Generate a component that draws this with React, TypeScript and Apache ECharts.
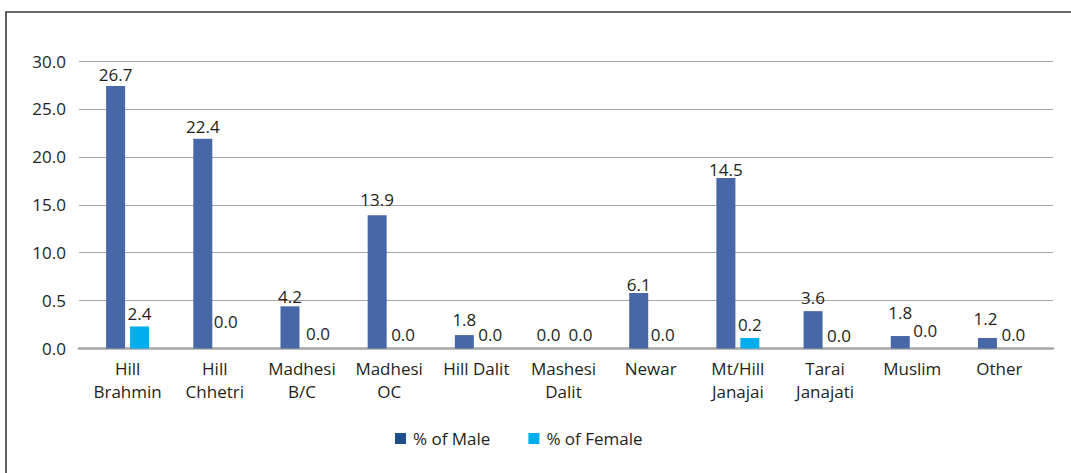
import React, { useEffect, useRef } from "react";
import * as echarts from "echarts";

// ---- data ----
const categories = [
  "Hill\nBrahmin",
  "Hill\nChhetri",
  "Madhesi\nB/C",
  "Madhesi\nOC",
  "Hill Dalit",
  "Mashesi\nDalit",
  "Newar",
  "Mt/Hill\nJanajai",
  "Tarai\nJanajati",
  "Muslim",
  "Other",
];
// bar heights as drawn in the picture
const maleHeights = [27.4, 21.9, 4.4, 13.9, 1.4, 0, 5.8, 17.8, 3.9, 1.3, 1.1];
const femaleHeights = [2.3, 0, 0, 0, 0, 0, 0, 1.1, 0, 0, 0];
// values printed on the bars
const maleLabels = ["26.7", "22.4", "4.2", "13.9", "1.8", "0.0", "6.1", "14.5", "3.6", "1.8", "1.2"];
const femaleLabels = ["2.4", "0.0", "0.0", "0.0", "0.0", "0.0", "0.0", "0.2", "0.0", "0.0", "0.0"];
const yTickLabels = ["0.0", "0.5", "10.0", "15.0", "20.0", "25.0", "30.0"];
const seriesNames = ["% of Male", "% of Female"];

// ---- style tweaks (label lift above bar top / sideways shift, px) ----
const maleLabelGap = [5.7, 6.3, 4.3, 10, 10, 8.5, 3, 3, 7.7, 17.7, 14];
const femaleLabelGap = [7.3, 21.5, 9.5, 8.5, 8.5, 8.5, 8.5, 8, 7.5, 12.5, 8.5];
const maleLabelShift = [0, 0, 0, 0, 0, -3, 0, 0, 0, 0, -2];
const femaleLabelShift = [0, -1, 4, 2, 2, 5, 0, 0, 2, 1, 2];

const FONT = "'Open Sans', sans-serif";
const TEXT = "#231f20";
const MALE = "#4767a6";
const FEMALE = "#00aeef";

export default function App() {
  const ref = useRef<HTMLDivElement>(null);
  useEffect(() => {
    document.body.style.margin = "0";
    const chart = echarts.init(ref.current!, null, { renderer: "svg" });
    const mkData = (h: number[], labels: string[], gaps: number[], shifts: number[]) =>
      h.map((v, i) => ({
        value: v,
        label: { formatter: labels[i], distance: gaps[i] - 3, offset: [shifts[i], 0] },
      }));
    chart.setOption({
      animation: false,
      backgroundColor: "#fff",
      textStyle: { fontFamily: FONT },
      grid: [
        { left: 79, right: 18, top: 61, bottom: 124.5 },
        { left: 84, right: 28, top: 61, bottom: 124.5 },
      ],
      legend: {
        left: 395,
        top: 430,
        padding: 0,
        itemWidth: 11,
        itemHeight: 11,
        itemGap: 38,
        icon: "rect",
        textStyle: { fontFamily: FONT, fontSize: 17, color: TEXT, padding: [0, 0, 0, 2] },
        data: [
          { name: seriesNames[0], itemStyle: { color: "#1f4e8c" } },
          { name: seriesNames[1], itemStyle: { color: FEMALE } },
        ],
      },
      xAxis: [
        {
          type: "value",
          gridIndex: 0,
          min: 0,
          max: 1,
          axisLine: { show: true, lineStyle: { color: "#a6a6a6", width: 2.5 } },
          axisTick: { show: false },
          axisLabel: { show: false },
          splitLine: { show: false },
        },
        {
          type: "category",
          gridIndex: 1,
          data: categories,
          axisLine: { show: false },
          axisTick: { show: false },
          axisLabel: {
            interval: 0,
            fontFamily: FONT,
            fontSize: 17,
            color: TEXT,
            lineHeight: 23,
            margin: 8,
          },
        },
      ],
      yAxis: [
        {
          type: "value",
          gridIndex: 0,
          min: 0,
          max: 30,
          interval: 5,
          axisLine: { show: false },
          axisTick: { show: false },
          splitLine: { lineStyle: { color: "#a6a6a6", width: 1.2 } },
          axisLabel: {
            fontFamily: FONT,
            fontSize: 17,
            color: TEXT,
            margin: 13,
            formatter: (_v: number, i: number) => yTickLabels[i],
          },
        },
        {
          type: "value",
          gridIndex: 1,
          min: 0,
          max: 30,
          interval: 5,
          show: false,
          splitLine: { show: false },
        },
      ],
      series: [
        {
          name: seriesNames[0],
          type: "bar",
          xAxisIndex: 1,
          yAxisIndex: 1,
          barWidth: 19,
          barGap: "26%",
          itemStyle: { color: MALE },
          label: { show: true, position: "top", fontFamily: FONT, fontSize: 17, color: TEXT },
          data: mkData(maleHeights, maleLabels, maleLabelGap, maleLabelShift),
        },
        {
          name: seriesNames[1],
          type: "bar",
          xAxisIndex: 1,
          yAxisIndex: 1,
          barWidth: 19,
          barGap: "26%",
          itemStyle: { color: FEMALE },
          label: { show: true, position: "top", fontFamily: FONT, fontSize: 17, color: TEXT },
          data: mkData(femaleHeights, femaleLabels, femaleLabelGap, femaleLabelShift),
        },
      ],
      graphic: [
        {
          type: "polyline",
          shape: { points: [[6, 473], [6, 12], [1071, 12]] },
          style: { stroke: "#3a3a3a", lineWidth: 1.6, fill: "none" },
          silent: true,
        },
      ],
    });
    return () => chart.dispose();
  }, []);
  return <div ref={ref} style={{ width: 1071, height: 473 }} />;
}
